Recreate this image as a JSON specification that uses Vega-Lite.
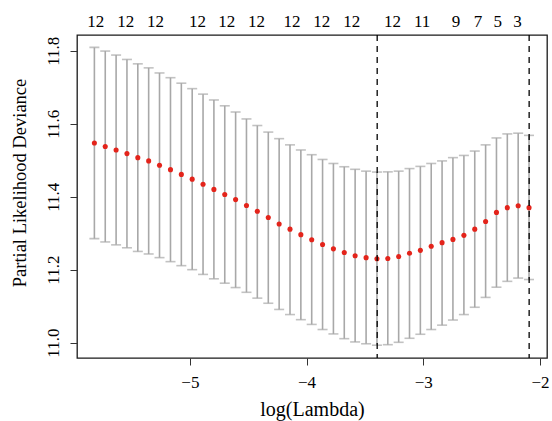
{
  "$schema": "https://vega.github.io/schema/vega-lite/v6.json",
  "width": 470,
  "height": 323,
  "autosize": {"type": "none"},
  "padding": {"left": 77, "top": 35, "right": 5, "bottom": 63},
  "config": {
    "view": {"stroke": "#1a1a1a", "strokeWidth": 1.3},
    "font": "Liberation Serif, serif",
    "axis": {
      "grid": false,
      "domain": false,
      "labelFont": "Liberation Serif, serif",
      "titleFont": "Liberation Serif, serif",
      "labelColor": "#000",
      "titleColor": "#000",
      "tickColor": "#333",
      "labelFlush": false,
      "labelOverlap": false,
      "titleFontWeight": "normal"
    }
  },
  "data": {
    "values": [
      {"ll": -5.818, "m": 11.547, "lo": 11.285, "hi": 11.809},
      {"ll": -5.725, "m": 11.5375, "lo": 11.276, "hi": 11.799},
      {"ll": -5.632, "m": 11.528, "lo": 11.268, "hi": 11.788},
      {"ll": -5.539, "m": 11.518, "lo": 11.260, "hi": 11.776},
      {"ll": -5.446, "m": 11.507, "lo": 11.250, "hi": 11.764},
      {"ll": -5.353, "m": 11.498, "lo": 11.243, "hi": 11.753},
      {"ll": -5.260, "m": 11.486, "lo": 11.233, "hi": 11.739},
      {"ll": -5.166, "m": 11.474, "lo": 11.222, "hi": 11.726},
      {"ll": -5.073, "m": 11.461, "lo": 11.211, "hi": 11.711},
      {"ll": -4.980, "m": 11.448, "lo": 11.200, "hi": 11.696},
      {"ll": -4.887, "m": 11.434, "lo": 11.187, "hi": 11.681},
      {"ll": -4.794, "m": 11.420, "lo": 11.175, "hi": 11.665},
      {"ll": -4.701, "m": 11.406, "lo": 11.163, "hi": 11.649},
      {"ll": -4.608, "m": 11.392, "lo": 11.151, "hi": 11.632},
      {"ll": -4.515, "m": 11.376, "lo": 11.138, "hi": 11.613},
      {"ll": -4.422, "m": 11.360, "lo": 11.122, "hi": 11.595},
      {"ll": -4.328, "m": 11.343, "lo": 11.108, "hi": 11.577},
      {"ll": -4.235, "m": 11.325, "lo": 11.091, "hi": 11.559},
      {"ll": -4.142, "m": 11.311, "lo": 11.077, "hi": 11.542},
      {"ll": -4.049, "m": 11.296, "lo": 11.063, "hi": 11.528},
      {"ll": -3.956, "m": 11.282, "lo": 11.050, "hi": 11.515},
      {"ll": -3.863, "m": 11.269, "lo": 11.036, "hi": 11.502},
      {"ll": -3.770, "m": 11.257, "lo": 11.024, "hi": 11.491},
      {"ll": -3.677, "m": 11.247, "lo": 11.011, "hi": 11.482},
      {"ll": -3.584, "m": 11.238, "lo": 11.002, "hi": 11.475},
      {"ll": -3.490, "m": 11.233, "lo": 10.997, "hi": 11.470},
      {"ll": -3.397, "m": 11.230, "lo": 10.993, "hi": 11.4675},
      {"ll": -3.304, "m": 11.2305, "lo": 10.9945, "hi": 11.468},
      {"ll": -3.211, "m": 11.236, "lo": 11.001, "hi": 11.470},
      {"ll": -3.118, "m": 11.245, "lo": 11.012, "hi": 11.477},
      {"ll": -3.025, "m": 11.253, "lo": 11.023, "hi": 11.483},
      {"ll": -2.932, "m": 11.264, "lo": 11.036, "hi": 11.491},
      {"ll": -2.839, "m": 11.274, "lo": 11.048, "hi": 11.498},
      {"ll": -2.746, "m": 11.283, "lo": 11.062, "hi": 11.507},
      {"ll": -2.652, "m": 11.294, "lo": 11.077, "hi": 11.513},
      {"ll": -2.559, "m": 11.311, "lo": 11.097, "hi": 11.525},
      {"ll": -2.466, "m": 11.332, "lo": 11.124, "hi": 11.542},
      {"ll": -2.373, "m": 11.357, "lo": 11.152, "hi": 11.561},
      {"ll": -2.280, "m": 11.370, "lo": 11.168, "hi": 11.572},
      {"ll": -2.187, "m": 11.375, "lo": 11.177, "hi": 11.574},
      {"ll": -2.094, "m": 11.370, "lo": 11.173, "hi": 11.568}
    ]
  },
  "resolve": {"axis": {"x": "independent", "y": "independent"}},
  "layer": [
    {
      "mark": {"type": "rule", "color": "#a8a8a8", "strokeWidth": 1.6},
      "encoding": {
        "x": {
          "field": "ll", "type": "quantitative",
          "scale": {"domain": [-5.967, -1.94], "nice": false, "zero": false},
          "axis": {
            "orient": "bottom", "values": [-5, -4, -3, -2], "title": "log(Lambda)",
            "tickSize": 7, "labelFontSize": 17, "labelPadding": 9, "labelBaseline": "top",
            "titleFontSize": 20, "titleBaseline": "alphabetic", "titleY": 57
          }
        },
        "y": {
          "field": "lo", "type": "quantitative",
          "scale": {"domain": [10.958, 11.843], "nice": false, "zero": false},
          "axis": {
            "orient": "left",
            "values": [11, 11.2, 11.4, 11.6, 11.8], "format": ".1f",
            "title": "Partial Likelihood Deviance",
            "tickSize": 7, "labelFontSize": 17, "labelAngle": 270, "labelAlign": "center",
            "labelBaseline": "alphabetic", "labelPadding": 12,
            "titleFontSize": 18.5, "titleAngle": 270, "titleBaseline": "alphabetic",
            "titleAlign": "center", "titleX": -52, "titleY": 147.5
          }
        },
        "y2": {"field": "hi"}
      }
    },
    {
      "mark": {"type": "tick", "orient": "horizontal", "color": "#a8a8a8", "size": 10, "thickness": 1.6},
      "encoding": {
        "x": {"field": "ll", "type": "quantitative", "scale": {"domain": [-5.967, -1.94], "nice": false, "zero": false}, "axis": null},
        "y": {"field": "hi", "type": "quantitative", "scale": {"domain": [10.958, 11.843], "nice": false, "zero": false}, "axis": null}
      }
    },
    {
      "mark": {"type": "tick", "orient": "horizontal", "color": "#a8a8a8", "size": 10, "thickness": 1.6},
      "encoding": {
        "x": {"field": "ll", "type": "quantitative", "scale": {"domain": [-5.967, -1.94], "nice": false, "zero": false}, "axis": null},
        "y": {"field": "lo", "type": "quantitative", "scale": {"domain": [10.958, 11.843], "nice": false, "zero": false}, "axis": null}
      }
    },
    {
      "mark": {"type": "circle", "color": "#e3241b", "size": 26, "opacity": 1},
      "encoding": {
        "x": {"field": "ll", "type": "quantitative", "scale": {"domain": [-5.967, -1.94], "nice": false, "zero": false}, "axis": null},
        "y": {"field": "m", "type": "quantitative", "scale": {"domain": [10.958, 11.843], "nice": false, "zero": false}, "axis": null}
      }
    },
    {
      "data": {"values": [{"v": -3.395}, {"v": -2.093}]},
      "mark": {"type": "rule", "color": "#000", "strokeDash": [6, 5], "strokeWidth": 1.3},
      "encoding": {
        "x": {
          "field": "v", "type": "quantitative",
          "scale": {"domain": [-5.967, -1.94], "nice": false, "zero": false},
          "axis": {
            "orient": "top",
            "values": [-5.810, -5.553, -5.298, -4.939, -4.688, -4.434, -4.129, -3.875, -3.618, -3.267, -3.014, -2.723, -2.536, -2.367, -2.197],
            "labelExpr": "datum.value < -3.1 ? '12' : datum.value < -2.8 ? '11' : datum.value < -2.6 ? '9' : datum.value < -2.45 ? '7' : datum.value < -2.3 ? '5' : '3'",
            "ticks": false, "tickSize": 0, "labelPadding": 8.5, "labelBaseline": "alphabetic",
            "labelFontSize": 17, "title": null
          }
        }
      }
    }
  ]
}
